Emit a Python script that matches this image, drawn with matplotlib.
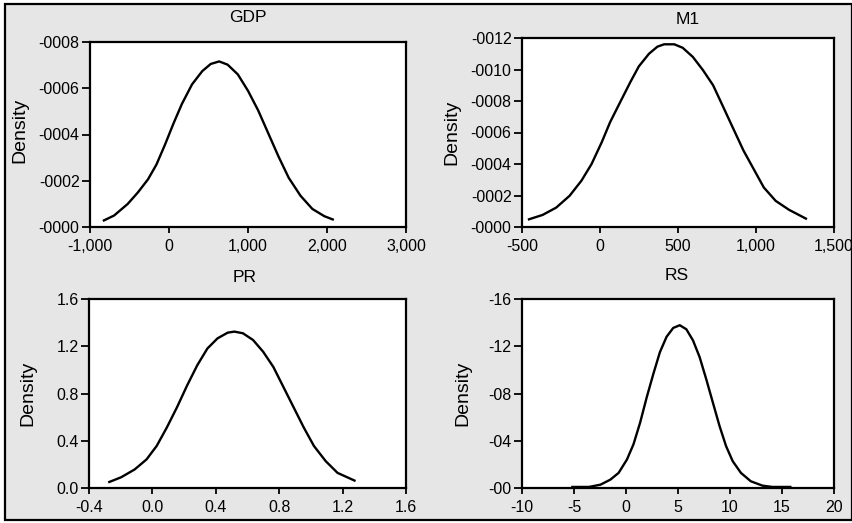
import matplotlib
matplotlib.use("Agg")
import matplotlib.pyplot as plt
from matplotlib.patches import Rectangle

plt.rcParams['font.family'] = ['Liberation Sans', 'DejaVu Sans']

# ---- data ----
gdp_x = [-824, -695, -524, -395, -266, -159, -52, 56, 163, 292, 421, 528, 635, 742,
         871, 1000, 1129, 1258, 1386, 1515, 1665, 1815, 1966, 2073]
gdp_y = [0.0000284, 0.0000496, 0.0000993, 0.000149, 0.000206, 0.000270, 0.000355,
         0.000447, 0.000532, 0.000617, 0.000674, 0.000705, 0.000716, 0.000702, 0.000660,
         0.000589, 0.000504, 0.000404, 0.000305, 0.000213, 0.000135, 0.000078,
         0.0000468, 0.0000326]

m1_x = [-455, -368, -281, -195, -119, -54, 11, 65, 130, 195, 249, 314, 368, 411, 476,
        530, 595, 660, 725, 790, 855, 920, 985, 1050, 1126, 1212, 1320]
m1_y = [0.0000489, 0.0000766, 0.000123, 0.000198, 0.000294, 0.000400, 0.000538,
        0.000666, 0.000794, 0.000921, 0.00102, 0.00110, 0.001145, 0.00116, 0.00116,
        0.001138, 0.00108, 0.000996, 0.000900, 0.000762, 0.000623, 0.000485, 0.000368,
        0.000251, 0.000166, 0.000109, 0.0000532]

pr_x = [-0.272, -0.197, -0.112, -0.037, 0.027, 0.091, 0.155, 0.219, 0.283, 0.347, 0.411,
        0.475, 0.517, 0.571, 0.635, 0.699, 0.763, 0.827, 0.891, 0.955, 1.019, 1.093,
        1.168, 1.275]
pr_y = [0.051, 0.091, 0.157, 0.242, 0.356, 0.512, 0.683, 0.868, 1.039, 1.181, 1.267,
        1.315, 1.324, 1.310, 1.253, 1.153, 1.025, 0.854, 0.683, 0.512, 0.356, 0.228,
        0.128, 0.063]

rs_x = [-5.16, -3.57, -2.46, -1.5, -0.71, 0.09, 0.72, 1.36, 1.99, 2.63, 3.26, 3.9, 4.54,
        5.17, 5.8, 6.44, 7.08, 7.71, 8.35, 8.99, 9.62, 10.26, 11.05, 12.0, 13.12, 14.07,
        15.8]
rs_y = [0.0009, 0.0009, 0.0028, 0.0071, 0.0128, 0.0241, 0.037, 0.0554, 0.0767, 0.0966,
        0.115, 0.128, 0.1355, 0.1378, 0.1344, 0.125, 0.1108, 0.0923, 0.0724, 0.0526,
        0.0355, 0.0227, 0.0128, 0.0057, 0.002, 0.0009, 0.0009]

gdp_xticks = [-1000, 0, 1000, 2000, 3000]
gdp_xlabels = ["-1,000", "0", "1,000", "2,000", "3,000"]
gdp_yticks = [0, 0.0002, 0.0004, 0.0006, 0.0008]
gdp_ylabels = ["-0000", "-0002", "-0004", "-0006", "-0008"]

m1_xticks = [-500, 0, 500, 1000, 1500]
m1_xlabels = ["-500", "0", "500", "1,000", "1,500"]
m1_yticks = [0, 0.0002, 0.0004, 0.0006, 0.0008, 0.0010, 0.0012]
m1_ylabels = ["-0000", "-0002", "-0004", "-0006", "-0008", "-0010", "-0012"]

pr_xticks = [-0.4, 0.0, 0.4, 0.8, 1.2, 1.6]
pr_xlabels = ["-0.4", "0.0", "0.4", "0.8", "1.2", "1.6"]
pr_yticks = [0.0, 0.4, 0.8, 1.2, 1.6]
pr_ylabels = ["0.0", "0.4", "0.8", "1.2", "1.6"]

rs_xticks = [-10, -5, 0, 5, 10, 15, 20]
rs_xlabels = ["-10", "-5", "0", "5", "10", "15", "20"]
rs_yticks = [0, 0.04, 0.08, 0.12, 0.16]
rs_ylabels = ["-00", "-04", "-08", "-12", "-16"]

titles = ["GDP", "M1", "PR", "RS"]

W, H = 853, 523
fig = plt.figure(figsize=(W / 100, H / 100), dpi=100)
fig.patch.set_facecolor("white")
BG = "#e6e6e6"
fig.patches.append(Rectangle((5 / W, 3 / H), 847 / W, 516 / H, transform=fig.transFigure,
                             facecolor=BG, edgecolor="black", linewidth=1.6, zorder=-10))


def px_axes(l, t, r, b):
    return fig.add_axes([l / W, (H - b) / H, (r - l) / W, (b - t) / H])


panels = [
    (px_axes(90, 42, 406, 227), gdp_x, gdp_y, gdp_xticks, gdp_xlabels, gdp_yticks, gdp_ylabels,
     (-1000, 3000), (0, 0.0008), (248, 18), (20, 130)),
    (px_axes(522, 38, 834, 227), m1_x, m1_y, m1_xticks, m1_xlabels, m1_yticks, m1_ylabels,
     (-500, 1500), (0, 0.0012), (688, 20), (452, 132)),
    (px_axes(89, 299, 406, 488), pr_x, pr_y, pr_xticks, pr_xlabels, pr_yticks, pr_ylabels,
     (-0.4, 1.6), (0, 1.6), (245, 278), (28, 393)),
    (px_axes(522, 299, 834, 488), rs_x, rs_y, rs_xticks, rs_xlabels, rs_yticks, rs_ylabels,
     (-10, 20), (0, 0.16), (677, 276), (463, 393)),
]

for (ax, xs, ys, xt, xl, yt, yl, xlim, ylim, tpos, dpos), title in zip(panels, titles):
    ax.set_facecolor("white")
    ax.plot(xs, ys, color="black", linewidth=1.7, solid_joinstyle="round")
    ax.set_xlim(*xlim)
    ax.set_ylim(*ylim)
    ax.set_xticks(xt)
    ax.set_xticklabels(xl)
    ax.set_yticks(yt)
    ax.set_yticklabels(yl)
    for s in ax.spines.values():
        s.set_linewidth(1.6)
        s.set_color("black")
    ax.tick_params(axis="x", direction="out", length=4, width=1.3, labelsize=11.5, pad=4.5,
                   colors="black")
    ax.tick_params(axis="y", direction="out", length=6, width=1.3, labelsize=11.5, pad=1.5,
                   colors="black")
    fig.text(tpos[0] / W, 1 - tpos[1] / H, title, ha="center", va="center", fontsize=12.5)
    fig.text(dpos[0] / W, 1 - dpos[1] / H, "Density", ha="center", va="center",
             rotation=90, fontsize=14)

fig.savefig("out.png", dpi=100, facecolor=fig.get_facecolor())
